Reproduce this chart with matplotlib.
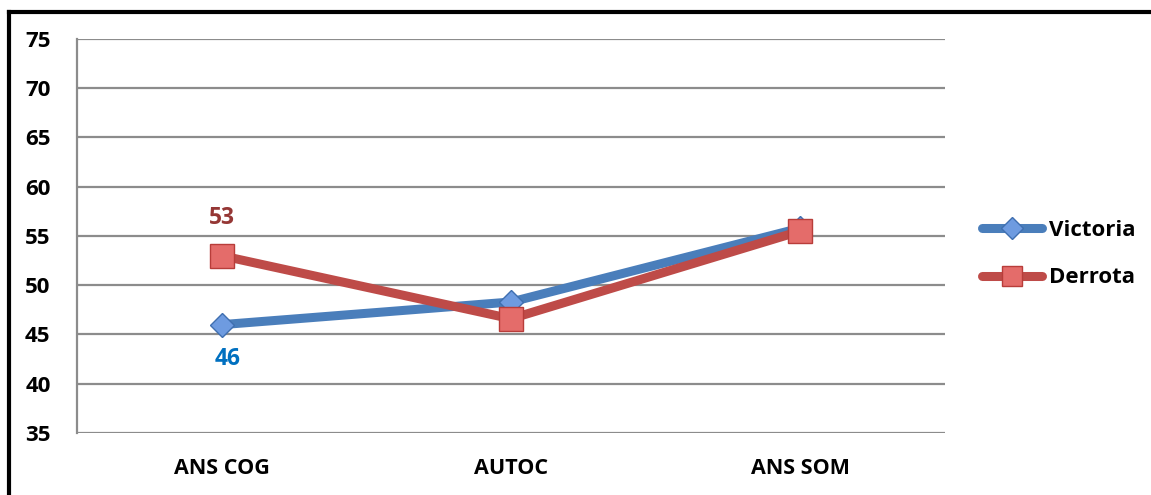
import matplotlib
matplotlib.use("Agg")
import matplotlib.pyplot as plt
from matplotlib.lines import Line2D

categories = ["ANS COG", "AUTOC", "ANS SOM"]
victoria = [46, 48.3, 55.8]
derrota = [53, 46.6, 55.5]
yticks = [35, 40, 45, 50, 55, 60, 65, 70, 75]

plt.rcParams["font.family"] = ["Open Sans", "DejaVu Sans"]
plt.rcParams["font.weight"] = "bold"

W, H = 1151, 495
fig = plt.figure(figsize=(W / 100, H / 100), dpi=100)
ax = fig.add_axes([77 / W, (H - 433) / H, 868 / W, 394 / H])

x = range(len(categories))
blue = "#4A7EBB"
red = "#BE4B48"
ax.plot(x, victoria, color=blue, lw=6.5, marker="D", ms=12,
        mfc="#6E9BE0", mec="#3F6FB0", mew=1, zorder=3, solid_capstyle="round")
ax.plot(x, derrota, color=red, lw=6.5, marker="s", ms=17,
        mfc="#E46C6A", mec="#B83D3A", mew=1, zorder=4, solid_capstyle="round")

ax.text(0, derrota[0] + 3.8, "53", color="#953735", fontsize=16.5,
        fontweight="bold", ha="center", va="center")
ax.text(0.02, victoria[0] - 3.5, "46", color="#0070C0", fontsize=16.5,
        fontweight="bold", ha="center", va="center")

ax.set_xlim(-0.5, 2.5)
ax.set_ylim(35, 75)
ax.set_yticks(yticks)
ax.set_xticks(list(x))
ax.set_xticklabels(categories, fontsize=15.5, fontweight="bold")
ax.tick_params(axis="y", labelsize=16, length=0, pad=19)
ax.tick_params(axis="x", length=0, pad=18)
ax.grid(axis="y", color="#8C8C8C", lw=1.6)
ax.set_axisbelow(True)
for s in ["top", "right", "bottom"]:
    ax.spines[s].set_visible(False)
ax.spines["left"].set_color("#8C8C8C")
ax.spines["left"].set_linewidth(1.6)

handles = [
    Line2D([], [], color=blue, lw=6.5, marker="D", ms=11, mfc="#6E9BE0",
           mec="#3F6FB0", solid_capstyle="round"),
    Line2D([], [], color=red, lw=6.5, marker="s", ms=15, mfc="#E46C6A",
           mec="#B83D3A", solid_capstyle="round"),
]
fig.legend(handles, ["Victoria", "Derrota"], loc="center left",
           bbox_to_anchor=(962 / W, 1 - 254 / H), frameon=False,
           prop={"size": 16, "weight": "bold"}, handlelength=2.7,
           labelspacing=1.2, handletextpad=0.3)

# outer frame (left and top edges visible)
fig.add_artist(Line2D([9 / W, 9 / W], [0, 1 - 12 / H], color="black", lw=3,
                      transform=fig.transFigure))
fig.add_artist(Line2D([9 / W, 1], [1 - 12 / H, 1 - 12 / H], color="black",
                      lw=3, transform=fig.transFigure))

fig.savefig("out.png", dpi=100)
